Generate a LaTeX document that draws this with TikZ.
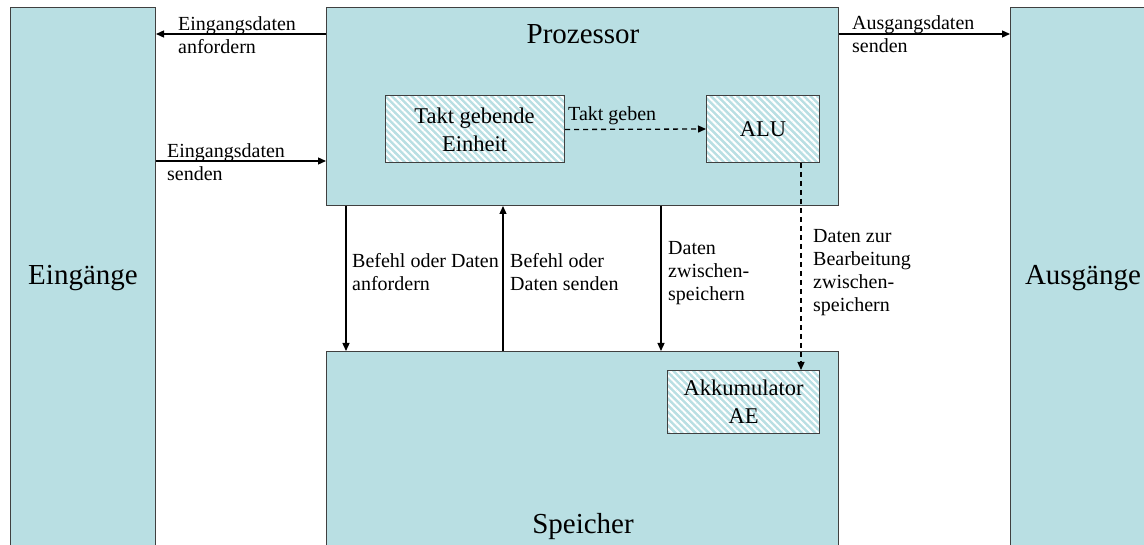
\documentclass[tikz,border=0pt]{standalone}
\usepackage{fontspec}
\setmainfont{Liberation Serif}
\usetikzlibrary{arrows.meta,patterns.meta}

\definecolor{boxfill}{RGB}{185,223,227}
\definecolor{boxline}{RGB}{64,64,64}

\tikzset{
  unit/.style={draw=boxline, line width=1pt, fill=boxfill, inner sep=0pt,
    anchor=north west},
  hatched/.style={draw=boxline, line width=1pt, inner sep=0pt,
    anchor=north west, align=center,
    font=\fontsize{22.5}{28}\selectfont,
    preaction={fill=boxfill},
    pattern={Lines[angle=-45,distance=4.7pt,line width=2pt]},
    pattern color=white},
  bigtext/.style={font=\fontsize{29}{34}\selectfont, inner sep=0pt, anchor=base},
  lbl/.style={font=\fontsize{20}{22.8}\selectfont, inner sep=0pt,
    anchor=north west, align=left},
  arr/.style={line width=1.3pt, -{Triangle[length=8pt,width=7pt]}},
  dasharr/.style={arr, dash pattern=on 5pt off 4pt}
}

\begin{document}
\begin{tikzpicture}[x=1pt,y=-1pt]
\useasboundingbox (0,0) rectangle (1144,545);
\clip (0,0) rectangle (1144,545);

% main units
\node[unit, minimum width=145pt, minimum height=560pt] (ein) at (10,7) {};
\node[unit, minimum width=512pt, minimum height=198pt] (proz) at (326,7) {};
\node[unit, minimum width=146pt, minimum height=560pt] (aus) at (1010,7) {};
\node[unit, minimum width=512pt, minimum height=220pt] (spe) at (326,351) {};

\node[bigtext] (einT) at (83,285) {Eingänge};
\node[bigtext] (ausT) at (1083,285) {Ausgänge};
\node[bigtext] (prozT) at (583,44) {Prozessor};
\node[bigtext] (speT) at (583,533) {Speicher};

% inner units
\node[hatched, minimum width=179pt, minimum height=67pt] (takt) at (384,95)
  {Takt gebende\\Einheit};
\node[hatched, minimum width=113pt, minimum height=67pt] (alu) at (706,95) {ALU};
\node[hatched, minimum width=152pt, minimum height=63pt] (akk) at (667,370)
  {Akkumulator\\AE};

% input / output connectors
\draw[arr] ([yshift=-27pt]proz.north west) -- ([yshift=-27pt]ein.north east);
\draw[arr] ([yshift=-154pt]ein.north east) -- ([yshift=-154pt]proz.north west);
\draw[arr] ([yshift=-27pt]proz.north east) -- ([yshift=-27pt]aus.north west);

% processor / memory connectors
\draw[arr] ([xshift=20pt]proz.south west) -- ([xshift=20pt]spe.north west);
\draw[arr] ([xshift=177pt]spe.north west) -- ([xshift=177pt]proz.south west);
\draw[arr] ([xshift=335pt]proz.south west) -- ([xshift=335pt]spe.north west);

% clock and accumulator paths
\draw[dasharr] (takt.east) -- (alu.west);
\draw[dasharr] ([xshift=-19pt]alu.south east) -- ([xshift=-19pt]akk.north east);

% labels
\node[lbl] (l1) at (178,16.5) {Eingangsdaten\\anfordern};
\node[lbl] (l2) at (167,143.5) {Eingangsdaten\\senden};
\node[lbl] (l3) at (852,15.5) {Ausgangsdaten\\senden};
\node[lbl] (l4) at (568,106.5) {Takt geben};
\node[lbl] (l5) at (352,253.5) {Befehl oder Daten\\anfordern};
\node[lbl] (l6) at (510,253.5) {Befehl oder\\Daten senden};
\node[lbl] (l7) at (668,241.5) {Daten\\zwischen-\\speichern};
\node[lbl] (l8) at (813,229.5) {Daten zur\\Bearbeitung\\zwischen-\\speichern};
\end{tikzpicture}
\end{document}
